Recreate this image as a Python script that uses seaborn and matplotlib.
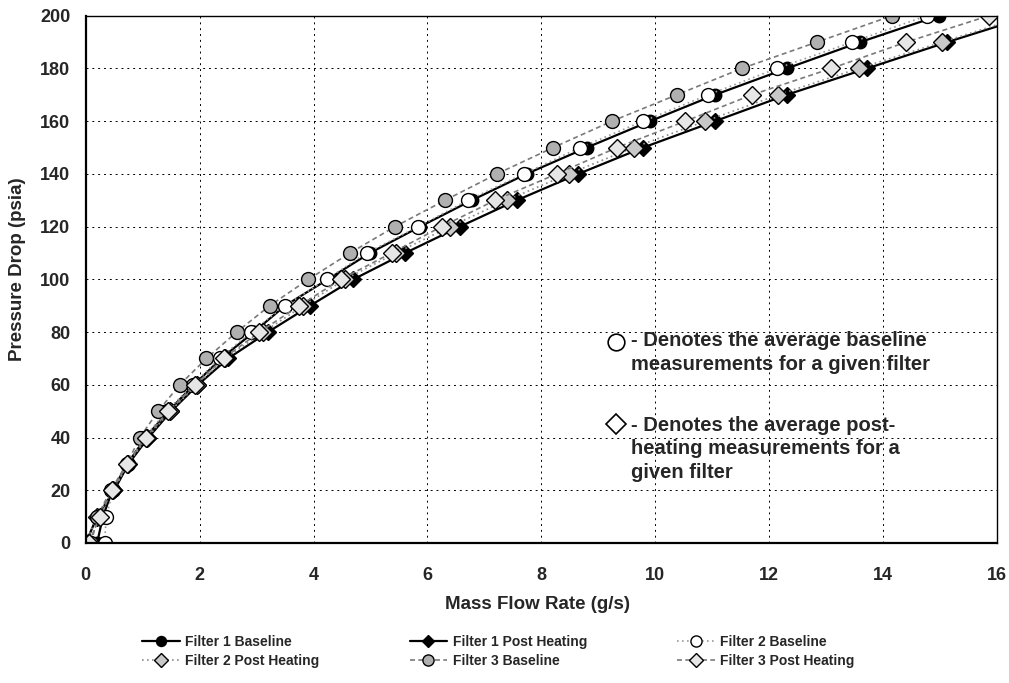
import numpy as np
import pandas as pd
import matplotlib
matplotlib.use('Agg')
import matplotlib.pyplot as plt
import seaborn as sns
from matplotlib.lines import Line2D

# Pressure levels (psia) shared by all series
pressure = [0, 10, 20, 30, 40, 50, 60, 70, 80, 90, 100,
            110, 120, 130, 140, 150, 160, 170, 180, 190, 200]

# Mass flow rate (g/s) for each filter
f1_base = [0.20, 0.30, 0.47, 0.73, 1.05, 1.45, 1.90, 2.38, 2.95, 3.50, 4.25,
           4.99, 5.87, 6.78, 7.74, 8.80, 9.91, 11.05, 12.31, 13.60, 14.98]
f1_post = [0.00, 0.20, 0.50, 0.75, 1.10, 1.50, 1.97, 2.50, 3.20, 3.94, 4.70,
           5.61, 6.57, 7.57, 8.65, 9.79, 11.05, 12.31, 13.72, 15.13, 16.60]
f2_base = [0.33, 0.36, 0.48, 0.74, 1.03, 1.42, 1.88, 2.35, 2.90, 3.50, 4.23,
           4.93, 5.84, 6.71, 7.69, 8.68, 9.79, 10.93, 12.14, 13.46, 14.77]
f2_post = [0.00, 0.20, 0.48, 0.74, 1.08, 1.48, 1.95, 2.45, 3.12, 3.82, 4.55,
           5.45, 6.40, 7.39, 8.48, 9.62, 10.88, 12.16, 13.57, 15.04, 16.50]
f3_base = [0.10, 0.20, 0.44, 0.72, 0.95, 1.27, 1.65, 2.12, 2.65, 3.23, 3.91,
           4.64, 5.43, 6.31, 7.22, 8.21, 9.24, 10.38, 11.52, 12.84, 14.16]
f3_post = [0.05, 0.25, 0.46, 0.73, 1.05, 1.45, 1.92, 2.42, 3.05, 3.75, 4.48,
           5.37, 6.25, 7.19, 8.27, 9.33, 10.53, 11.70, 13.09, 14.41, 15.86]

x_ticks = [0, 2, 4, 6, 8, 10, 12, 14, 16]
y_ticks = [0, 20, 40, 60, 80, 100, 120, 140, 160, 180, 200]

sns.set_style('white')
plt.rcParams['font.family'] = ['Liberation Sans', 'DejaVu Sans']

fig = plt.figure(figsize=(10.09, 6.83), dpi=100)
ax = fig.add_axes([0.085, 0.205, 0.903, 0.772])

# (label, data, line color, linestyle, marker, marker face, marker size)
series = [
    ('Filter 1 Baseline',     f1_base, 'black',   '-',          'o', 'black',   9),
    ('Filter 1 Post Heating', f1_post, 'black',   '-',          'D', 'black',   8),
    ('Filter 2 Baseline',     f2_base, '#9a9a9a', (0, (1, 2)),  'o', 'white',   10),
    ('Filter 2 Post Heating', f2_post, '#8a8a8a', (0, (1, 2)),  'D', '#c8c8c8', 9),
    ('Filter 3 Baseline',     f3_base, '#7a7a7a', (0, (3, 2)),  'o', '#b0b0b0', 10),
    ('Filter 3 Post Heating', f3_post, '#7a7a7a', (0, (3, 2)),  'D', '#e6e6e6', 9),
]

handles = {}
for label, xs, col, ls, mk, mfc, ms in series:
    df = pd.DataFrame({'flow': xs, 'pressure': pressure})
    lw = 1.6 if col == 'black' else 1.2
    sns.lineplot(data=df, x='flow', y='pressure', ax=ax, color=col,
                 linestyle=ls, linewidth=lw,
                 marker=mk, markersize=ms, markerfacecolor=mfc,
                 markeredgecolor='black', markeredgewidth=1.0,
                 sort=False, legend=False)
    handles[label] = Line2D([], [], color=col, linestyle=ls, linewidth=lw,
                            marker=mk, markersize=ms * 0.8,
                            markerfacecolor=mfc, markeredgecolor='black')

ax.set_xlim(0, 16)
ax.set_ylim(0, 200)
ax.set_xticks(x_ticks)
ax.set_yticks(y_ticks)
ax.set_xticklabels([str(t) for t in x_ticks], fontweight='bold', fontsize=13)
ax.set_yticklabels([str(t) for t in y_ticks], fontweight='bold', fontsize=13)
ax.tick_params(axis='both', direction='out', length=4, width=1, color='black')
ax.tick_params(axis='x', pad=13)
ax.tick_params(axis='y', pad=7)

ax.grid(True, color='black', linestyle=(0, (2, 4)), linewidth=0.7)
for s in ax.spines.values():
    s.set_color('black')
    s.set_linewidth(1.0)
ax.spines['left'].set_linewidth(1.6)
ax.spines['bottom'].set_linewidth(1.6)

ax.set_xlabel('Mass Flow Rate (g/s)', fontweight='bold', fontsize=13.5)
ax.set_ylabel('Pressure Drop (psia)', fontweight='bold', fontsize=13.5)
ax.xaxis.set_label_coords(0.496, -0.100)
ax.yaxis.set_label_coords(-0.066, 0.52)

# Marker key annotations
ax.plot([9.32], [76.3], marker='o', markersize=12, markerfacecolor='white',
        markeredgecolor='black', markeredgewidth=1.2, linestyle='none')
ax.text(9.58, 72.3, '- Denotes the average baseline\nmeasurements for a given filter',
        fontsize=14.5, fontweight='bold', va='center', ha='left', linespacing=1.3)
ax.plot([9.32], [45.3], marker='D', markersize=10, markerfacecolor='white',
        markeredgecolor='black', markeredgewidth=1.2, linestyle='none')
ax.text(9.58, 35.7, '- Denotes the average post-\nheating measurements for a\ngiven filter',
        fontsize=14.5, fontweight='bold', va='center', ha='left', linespacing=1.3)

# Legend: 3 columns, filled column-wise
order = ['Filter 1 Baseline', 'Filter 2 Post Heating',
         'Filter 1 Post Heating', 'Filter 3 Baseline',
         'Filter 2 Baseline', 'Filter 3 Post Heating']
fig.legend([handles[k] for k in order], order, loc='center',
           bbox_to_anchor=(0.494, 0.046), ncol=3, frameon=False,
           prop={'weight': 'bold', 'size': 10}, columnspacing=6.5,
           handlelength=2.7, handletextpad=0.4, labelspacing=0.35)

fig.savefig('out.png', dpi=100)
